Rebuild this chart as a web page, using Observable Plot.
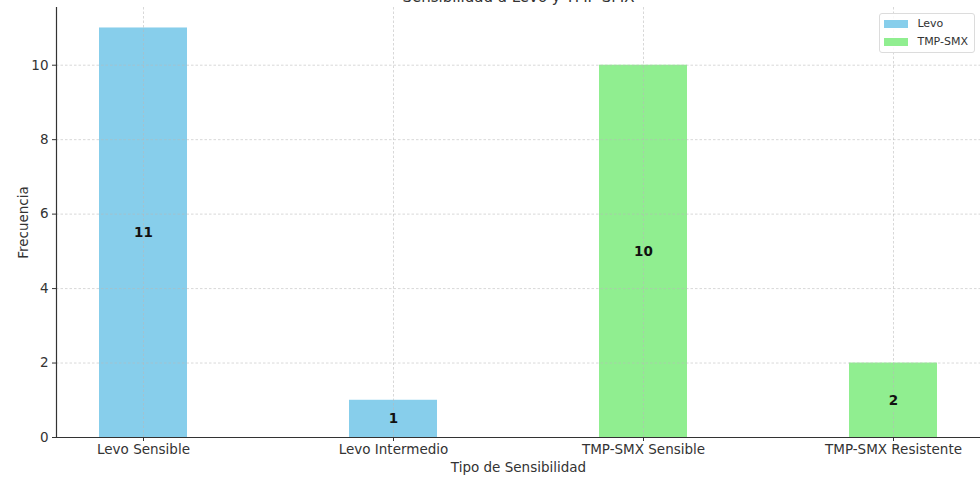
<!DOCTYPE html>
<html>
<head>
<meta charset="utf-8">
<script src="https://cdn.jsdelivr.net/npm/d3@7"></script>
<script src="https://cdn.jsdelivr.net/npm/@observablehq/plot@0.6"></script>
<style>
  html, body { margin: 0; padding: 0; background: #fff; }
  #wrap { position: relative; width: 980px; height: 479px; overflow: hidden; font-family: "DejaVu Sans", sans-serif; }
  #legend {
    position: absolute; right: 5px; top: 13px;
    border: 1px solid #dcdcdc; border-radius: 3px; background: rgba(255,255,255,0.85);
    padding: 1px 6px 1px 4px; font-size: 11px; color: #333; line-height: 18px;
  }
  #legend .row { display: flex; align-items: center; }
  #legend .sw { width: 24px; height: 8px; margin-right: 9px; }
</style>
</head>
<body>
<div id="wrap"><div id="legend"></div></div>
<script>
// Frequencies of each sensitivity outcome for levofloxacin and TMP-SMX
const categories = ["Levo Sensible", "Levo Intermedio", "TMP-SMX Sensible", "TMP-SMX Resistente"];
const counts = [11, 1, 10, 2];
const groups = ["Levo", "Levo", "TMP-SMX", "TMP-SMX"];
const seriesNames = ["Levo", "TMP-SMX"];
const seriesColors = ["#87ceeb", "#90ee90"];
const yTicks = [0, 2, 4, 6, 8, 10];

const rows = categories.map((c, i) => ({category: c, count: counts[i], group: groups[i]}));

const fs = 13.5;

const chart = Plot.plot({
  width: 980,
  height: 479,
  marginLeft: 56,
  marginRight: 0,
  marginTop: 7,
  marginBottom: 42,
  style: {fontFamily: "DejaVu Sans, sans-serif", fontSize: fs + "px", color: "#333", background: "#fff"},
  x: {domain: categories, paddingInner: 0.65, paddingOuter: 0.166, label: null},
  y: {domain: [0, 11.55], label: null},
  color: {domain: seriesNames, range: seriesColors},
  marks: [
    Plot.barY(rows, {x: "category", y: "count", fill: "group"}),
    // dashed grid drawn over the bars
    Plot.gridY(yTicks, {stroke: "#b8b8b8", strokeOpacity: 0.55, strokeDasharray: "2.5,2"}),
    Plot.gridX(categories, {stroke: "#b8b8b8", strokeOpacity: 0.55, strokeDasharray: "2.5,2"}),
    Plot.text(rows, {x: "category", y: d => d.count / 2, text: d => String(d.count),
      fontWeight: "bold", fontSize: fs, fill: "#111"}),
    Plot.axisY({ticks: yTicks, tickSize: 4, tickPadding: 4, label: "Frecuencia",
      labelAnchor: "center", labelOffset: 38, labelArrow: "none", fontSize: fs}),
    Plot.axisX({tickSize: 4, tickPadding: 3, label: "Tipo de Sensibilidad",
      labelAnchor: "center", labelOffset: 34, labelArrow: "none", fontSize: fs}),
    Plot.ruleY([0], {stroke: "#333", strokeWidth: 1.2}),
    Plot.frame({anchor: "left", stroke: "#333", strokeWidth: 1.2}),
    Plot.text(["Sensibilidad a Levo y TMP-SMX"], {frameAnchor: "top", dy: -6, fontSize: 15, fill: "#333", lineAnchor: "bottom"})
  ]
});

const wrap = document.getElementById("wrap");
wrap.insertBefore(chart, wrap.firstChild);

const legend = document.getElementById("legend");
seriesNames.forEach((name, i) => {
  const row = document.createElement("div");
  row.className = "row";
  const sw = document.createElement("span");
  sw.className = "sw";
  sw.style.background = seriesColors[i];
  const lab = document.createElement("span");
  lab.textContent = name;
  row.appendChild(sw);
  row.appendChild(lab);
  legend.appendChild(row);
});
</script>
</body>
</html>
